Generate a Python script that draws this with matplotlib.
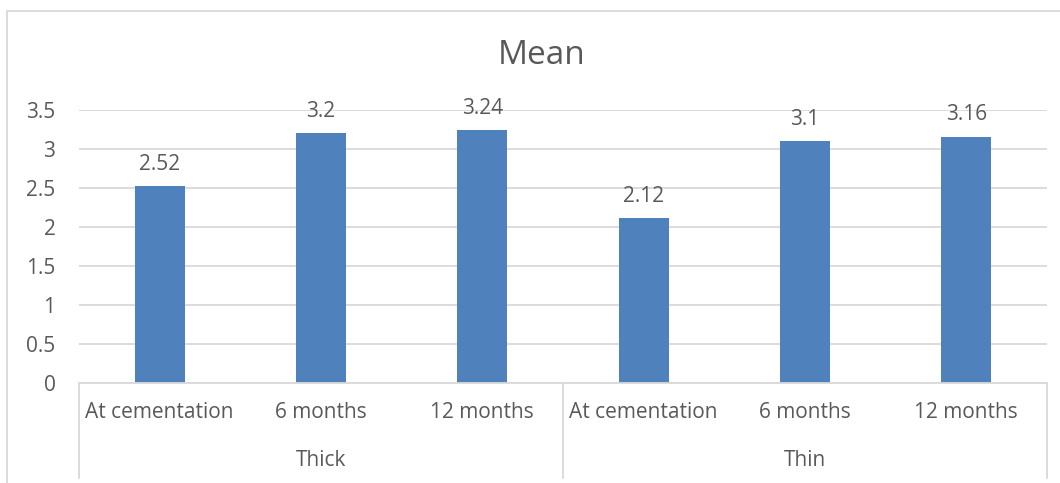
import matplotlib.pyplot as plt
from matplotlib.patches import Rectangle
from matplotlib.lines import Line2D
import matplotlib.transforms as mtransforms

# mean scores by cement thickness and time point
groups = ['Thick', 'Thin']
times = ['At cementation', '6 months', '12 months']
thick_means = [2.52, 3.2, 3.24]
thin_means = [2.12, 3.1, 3.16]

means = thick_means + thin_means
labels = times + times

plt.rcParams['font.family'] = ['Open Sans', 'DejaVu Sans']
text_color = '#595959'
grid_color = '#d9d9d9'
bar_color = '#4f81bd'
fs = 15

W, H = 1060, 483
fig = plt.figure(figsize=(W / 100, H / 100), dpi=100)

# plot area in pixels: left 79, right 1047, top 110 (3.5), bottom 383 (0)
ax = fig.add_axes([79 / W, (H - 383) / H, (1047 - 79) / W, (383 - 110) / H])

x = list(range(len(means)))
ax.bar(x, means, width=0.31, color=bar_color, zorder=3)

ax.set_xlim(-0.5, len(means) - 0.5)
ax.set_ylim(0, 3.5)
ax.set_yticks([0, 0.5, 1, 1.5, 2, 2.5, 3, 3.5])
ax.set_yticklabels(['0', '0.5', '1', '1.5', '2', '2.5', '3', '3.5'])
ax.tick_params(axis='y', length=0, pad=17, labelsize=fs, labelcolor=text_color)
ax.set_xticks([])
ax.grid(axis='y', color=grid_color, linewidth=1.3, zorder=0)
for s in ['top', 'right', 'left']:
    ax.spines[s].set_visible(False)
ax.spines['bottom'].set_color(grid_color)
ax.spines['bottom'].set_linewidth(1.3)
ax.spines['bottom'].set_zorder(4)

# value labels
for xi, v in zip(x, means):
    ax.annotate(f'{v:g}', (xi, v), xytext=(0, 8), textcoords='offset points',
                ha='center', va='bottom', fontsize=fs, color=text_color)

# two-level category axis
trans = mtransforms.blended_transform_factory(ax.transData, ax.transAxes)
axis_h = 383 - 110
for xi, lab in zip(x, labels):
    ax.text(xi, -(413 - 383) / axis_h, lab, transform=trans, ha='center', va='center',
            fontsize=fs, color=text_color)
for gi, g in enumerate(groups):
    ax.text(gi * 3 + 1, -(461 - 383) / axis_h, g, transform=trans, ha='center', va='center',
            fontsize=fs, color=text_color)
for xd in [-0.5, 2.5, 5.5]:
    ax.add_line(Line2D([xd, xd], [0, -(478 - 383) / axis_h], transform=trans,
                       color=grid_color, linewidth=1.3, clip_on=False))

# title
fig.text(542 / W, 1 - 55 / H, 'Mean', ha='center', va='center', fontsize=24, color=text_color)

# chart border
fig.patches.append(Rectangle((7 / W, -0.1), 1.5, 1 - 11 / H + 0.1, transform=fig.transFigure,
                             fill=False, edgecolor=grid_color, linewidth=1.3))

fig.savefig('out.png', dpi=100, facecolor='white')
